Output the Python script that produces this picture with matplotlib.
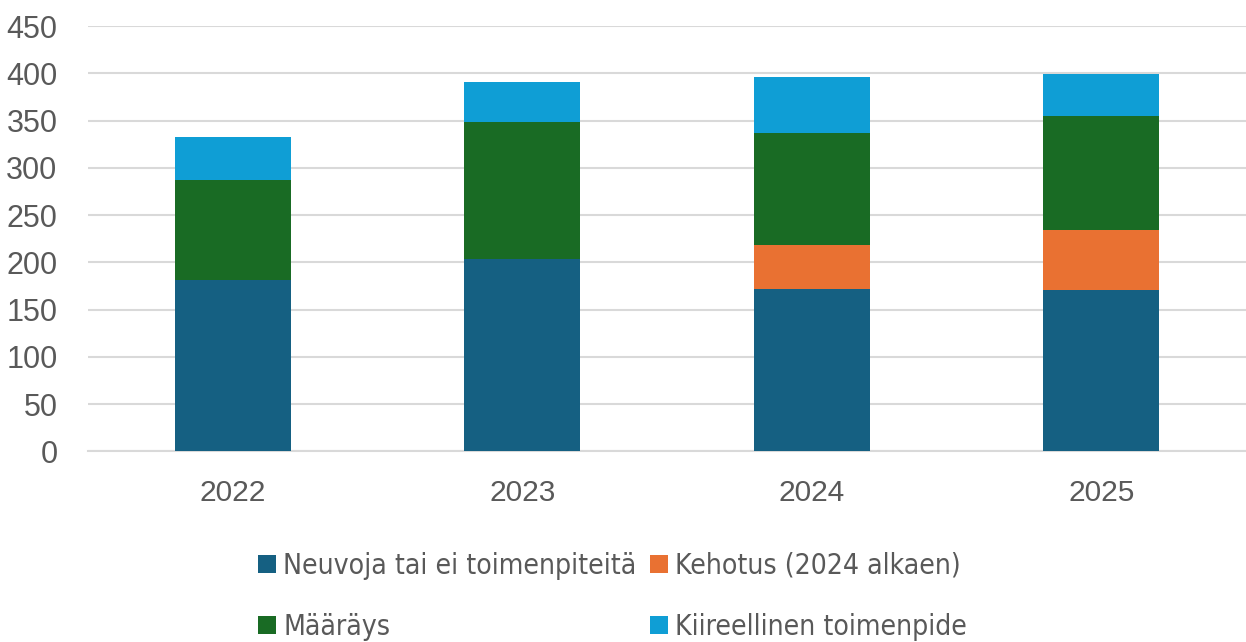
import matplotlib.pyplot as plt
from matplotlib.patches import Patch
from matplotlib import font_manager

years = ["2022", "2023", "2024", "2025"]
neuvoja = [181, 203, 172, 171]
kehotus = [0, 0, 46, 63]
maarays = [106, 145, 119, 121]
kiireellinen = [46, 43, 59, 44]

labels = ["Neuvoja tai ei toimenpiteitä", "Kehotus (2024 alkaen)",
          "Määräys", "Kiireellinen toimenpide"]
colors = ["#156082", "#E97132", "#196B24", "#0F9ED5"]
text_color = "#595959"
grid_color = "#D9D9D9"

# the legend uses a narrow face; pick one if installed
legend_file = None
names = [(f.name, f.fname) for f in font_manager.fontManager.ttflist]
for n, fn in names:
    if n == "Liberation Sans Narrow" and "Regular" in fn:
        legend_file = fn
        break
if legend_file is None:
    for n, fn in names:
        low = fn.lower()
        if "condensed" in low and "bold" not in low and "oblique" not in low \
                and "italic" not in low and "mono" not in low and "serif" not in low:
            legend_file = fn
            break

plt.rcParams["font.family"] = ["Liberation Sans", "DejaVu Sans"]

fig = plt.figure(figsize=(12.46, 6.42), dpi=100)
ax = fig.add_axes([0.0706, 0.297, 0.9294, 0.6625])

x = range(len(years))
series = [neuvoja, kehotus, maarays, kiireellinen]
bottom = [0] * len(years)
handles = []
for vals, lab, col in zip(series, labels, colors):
    ax.bar(x, vals, width=0.4, bottom=bottom, color=col, zorder=3)
    bottom = [b + v for b, v in zip(bottom, vals)]
    handles.append(Patch(facecolor=col, label=lab))

ax.set_xlim(-0.5, 3.5)
ax.set_ylim(0, 450)
ax.set_yticks(range(0, 451, 50))
ax.set_xticks(list(x))
ax.set_xticklabels(years)
ax.grid(axis="y", color=grid_color, linewidth=1.5, zorder=0)
for side in ["top", "right", "left"]:
    ax.spines[side].set_visible(False)
ax.spines["bottom"].set_color(grid_color)
ax.spines["bottom"].set_linewidth(1.5)
ax.tick_params(axis="both", length=0, colors=text_color)
ax.tick_params(axis="y", labelsize=22, pad=22)
ax.tick_params(axis="x", labelsize=21.5, pad=20)

# size the legend font so the longest label is ~353 px wide, as in the source
def make_prop(size):
    if legend_file:
        return font_manager.FontProperties(fname=legend_file, size=size)
    return font_manager.FontProperties(family="Liberation Sans", size=size)

renderer = fig.canvas.get_renderer()
probe = fig.text(0, 0, labels[0], fontproperties=make_prop(20))
w = probe.get_window_extent(renderer).width
probe.remove()
size = min(25, 20 * 353 / w)
prop = make_prop(size)
px = size * 100 / 72

# legend: column-wise order so rows read Neuvoja/Kehotus, Määräys/Kiireellinen
order = [0, 2, 1, 3]
leg = fig.legend([handles[i] for i in order], [labels[i] for i in order],
                 loc="center left", bbox_to_anchor=(258 / 1246, 1 - 596.5 / 642),
                 ncol=2, frameon=False,
                 handlelength=18 / px, handleheight=17 / px,
                 handletextpad=7 / px, columnspacing=14 / px,
                 labelspacing=(67 - 1.2 * px) / px,
                 borderaxespad=0, borderpad=0, prop=prop)
for t in leg.get_texts():
    t.set_color(text_color)

fig.savefig("out.png", dpi=100)
